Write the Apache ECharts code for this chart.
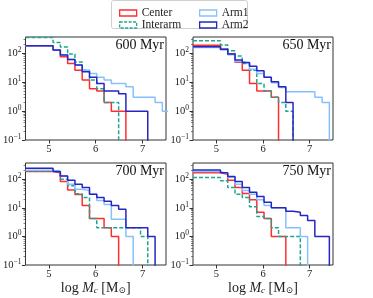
<!DOCTYPE html>
<html><head><meta charset="utf-8">
<script src="https://cdn.jsdelivr.net/npm/echarts@6/dist/echarts.min.js"></script>
<style>html,body{margin:0;padding:0;background:#fff}#c{width:373px;height:298px}</style>
</head><body><div id="c"></div>
<script>
// ---- data ----
const binEdges = [4.5, 5.089, 5.244, 5.4, 5.556, 5.711, 5.867, 6.022, 6.178, 6.333, 6.489, 6.644, 6.8, 6.956, 7.111, 7.267, 7.422, 7.578];
const panelLabels = ['600 Myr', '650 Myr', '700 Myr', '750 Myr'];
const seriesNames = ['Center', 'Interarm', 'Arm1', 'Arm2'];
const xTickValues = [5, 6, 7];
const yTickValues = [0.1, 1, 10, 100];
const yMinorValues = [0.2,0.3,0.4,0.5,0.6,0.7,0.8,0.9,2,3,4,5,6,7,8,9,20,30,40,50,60,70,80,90,200,300];

const center600   = [185, 130, 77, 45, 26, 12, 6, 5, 2, 1, 1];
const interarm600 = [357, 240, 165, 95, 50, 26, 12, 6, 2, 2];
const arm1_600    = [185, 135, 90, 62, 40, 26, 20, 15, 12, 9, 9, 7, 3, 3, 3, 2, 1];
const arm2_600    = [185, 130, 88, 62, 40, 23, 15, 9, 5, 5, 4, 1, 1, 1];

const center650   = [190, 140, 95, 49, 26, 9, 5, 5, 3];
const interarm650 = [275, 195, 124, 81, 45, 26, 9, 5, 3, 2, 1];
const arm1_650    = [160, 130, 90, 52, 45, 28, 20, 15, 9.6, 6.6, 4.7, 4.7, 4.7, 4.7, 3, 2];
const arm2_650    = [170, 138, 95, 59, 48, 36, 25, 15, 10.5, 7, 2];

const center700   = [185, 170, 83, 42, 29, 12, 4.2, 4.2, 2, 1];
const interarm700 = [195, 185, 100, 59, 31, 23, 4.2, 2, 2, 2, 2, 2, 2, 1];
const arm1_700    = [205, 185, 130, 67, 45, 40, 30, 18, 13, 4, 4, 1];
const arm2_700    = [240, 185, 130, 92, 67, 51, 30, 23, 17, 12, 9, 2, 2, 2, 1];

const center750   = [170, 150, 93, 51, 32, 19, 7, 4.2, 1, 1];
const interarm750 = [114, 88, 51, 30, 23, 11, 5, 4.2, 2, 1, 1, 1];
const arm1_750    = [185, 160, 118, 67, 40, 30, 19, 12, 10, 10, 2, 2, 1];
const arm2_750    = [210, 170, 124, 83, 51, 35, 25, 15.6, 10, 10, 7.6, 7, 5.4, 3.6, 1, 1];

const panels = [
  [center600, interarm600, arm1_600, arm2_600],
  [center650, interarm650, arm1_650, arm2_650],
  [center700, interarm700, arm1_700, arm2_700],
  [center750, interarm750, arm1_750, arm2_750]
];

// ---- style ----
const F = '"Liberation Serif", "DejaVu Serif", serif';
const colors = ['#ff2d2d', '#1fa592', '#86c0ff', '#2626c2'];
const dashes = ['solid', [4, 2], 'solid', 'solid'];
const grids = [
  {left: 25, top: 37, width: 141, height: 103},
  {left: 193, top: 37, width: 140, height: 103},
  {left: 25, top: 163, width: 141, height: 102},
  {left: 193, top: 163, width: 140, height: 102}
];

function steps(vals) {
  const pts = vals.map((v, i) => [binEdges[i], v]);
  const n = vals.length;
  pts.push([binEdges[n], vals[n - 1]]);
  pts.push([binEdges[n], 0.001]);
  return pts;
}
function supLabel(v) {
  const e = Math.round(Math.log10(v));
  return '{b|10}{e|' + (e < 0 ? '\u2212' + (-e) : e) + '}';
}

const xAxis = [], yAxis = [], series = [], title = [];
grids.forEach((g, gi) => {
  g.show = true; g.borderColor = '#333'; g.borderWidth = 1; g.containLabel = false;
  xAxis.push({
    type: 'value', gridIndex: gi, min: 4.5, max: 7.5,
    axisLine: {show: false}, splitLine: {show: false},
    axisTick: {show: true, length: 3.5, lineStyle: {color: '#333'}, customValues: xTickValues},
    axisLabel: {fontFamily: F, fontSize: 10.5, color: '#222', margin: 4, customValues: xTickValues},
    name: gi >= 2 ? '{n|log }{i|M}{s|c}{n| [M}{s|\u2299}{n|]}' : '',
    nameLocation: 'middle', nameGap: 14,
    nameTextStyle: {rich: {
      n: {fontFamily: F, fontSize: 14, color: '#222'},
      i: {fontFamily: F, fontSize: 14, fontStyle: 'italic', color: '#222'},
      s: {fontFamily: F, fontSize: 9, fontStyle: 'italic', color: '#222', padding: [6, 0, 0, 0]}
    }}
  });
  yAxis.push({
    type: 'log', logBase: 10, gridIndex: gi, min: 0.1, max: 370,
    axisLine: {show: false}, splitLine: {show: false},
    axisTick: {show: true, length: 3.5, lineStyle: {color: '#333'}, customValues: yTickValues},
    axisLabel: {margin: 4, customValues: yTickValues, formatter: supLabel,
      rich: {b: {fontFamily: F, fontSize: 10.5, color: '#222'},
             e: {fontFamily: F, fontSize: 7.5, color: '#222', padding: [0, 0, 6, 0]}}}
  });
  yAxis.push({
    type: 'log', logBase: 10, gridIndex: gi, min: 0.1, max: 370, position: 'left',
    axisLine: {show: false}, splitLine: {show: false}, axisLabel: {show: false},
    axisTick: {show: true, length: 2, lineStyle: {color: '#333', width: 0.6}, customValues: yMinorValues}
  });
  panels[gi].forEach((vals, si) => {
    series.push({
      type: 'line', name: seriesNames[si], xAxisIndex: gi, yAxisIndex: gi * 2,
      data: steps(vals), step: 'end', showSymbol: false, symbol: 'none', clip: true,
      lineStyle: {color: colors[si], width: 1.5, type: dashes[si]},
      itemStyle: {color: colors[si]}, z: 2 + si, silent: true
    });
  });
  title.push({
    text: panelLabels[gi], right: 373 - (g.left + g.width) + 2, top: g.top + 1, padding: 0,
    textStyle: {fontFamily: F, fontSize: 14, fontWeight: 'normal', color: '#111'}
  });
});

function legendItem(i) {
  return {name: seriesNames[i], itemStyle: {color: 'rgba(0,0,0,0)', borderColor: colors[i], borderWidth: 1.3, borderType: dashes[i] === 'solid' ? 'solid' : [3, 1.5]}};
}
const legendText = {fontFamily: F, fontSize: 11.5, color: '#222'};
const option = {
  animation: false,
  grid: grids, xAxis, yAxis, series, title,
  legend: [
    {left: 114, top: 2, orient: 'vertical', icon: 'rect', itemWidth: 17, itemHeight: 6, itemGap: 0, selectedMode: false,
     data: [legendItem(0), legendItem(1)], textStyle: legendText},
    {left: 194, top: 2, orient: 'vertical', icon: 'rect', itemWidth: 17, itemHeight: 6, itemGap: 0, selectedMode: false,
     data: [legendItem(2), legendItem(3)], textStyle: legendText}
  ],
  graphic: [{type: 'rect', shape: {x: 111.5, y: 0.5, width: 136, height: 28, r: 2}, style: {fill: '#fff', stroke: '#cfcfcf', lineWidth: 1}, z: -1}]
};
const chart = echarts.init(document.getElementById('c'), null, {renderer: 'canvas'});
chart.setOption(option);
</script></body></html>
